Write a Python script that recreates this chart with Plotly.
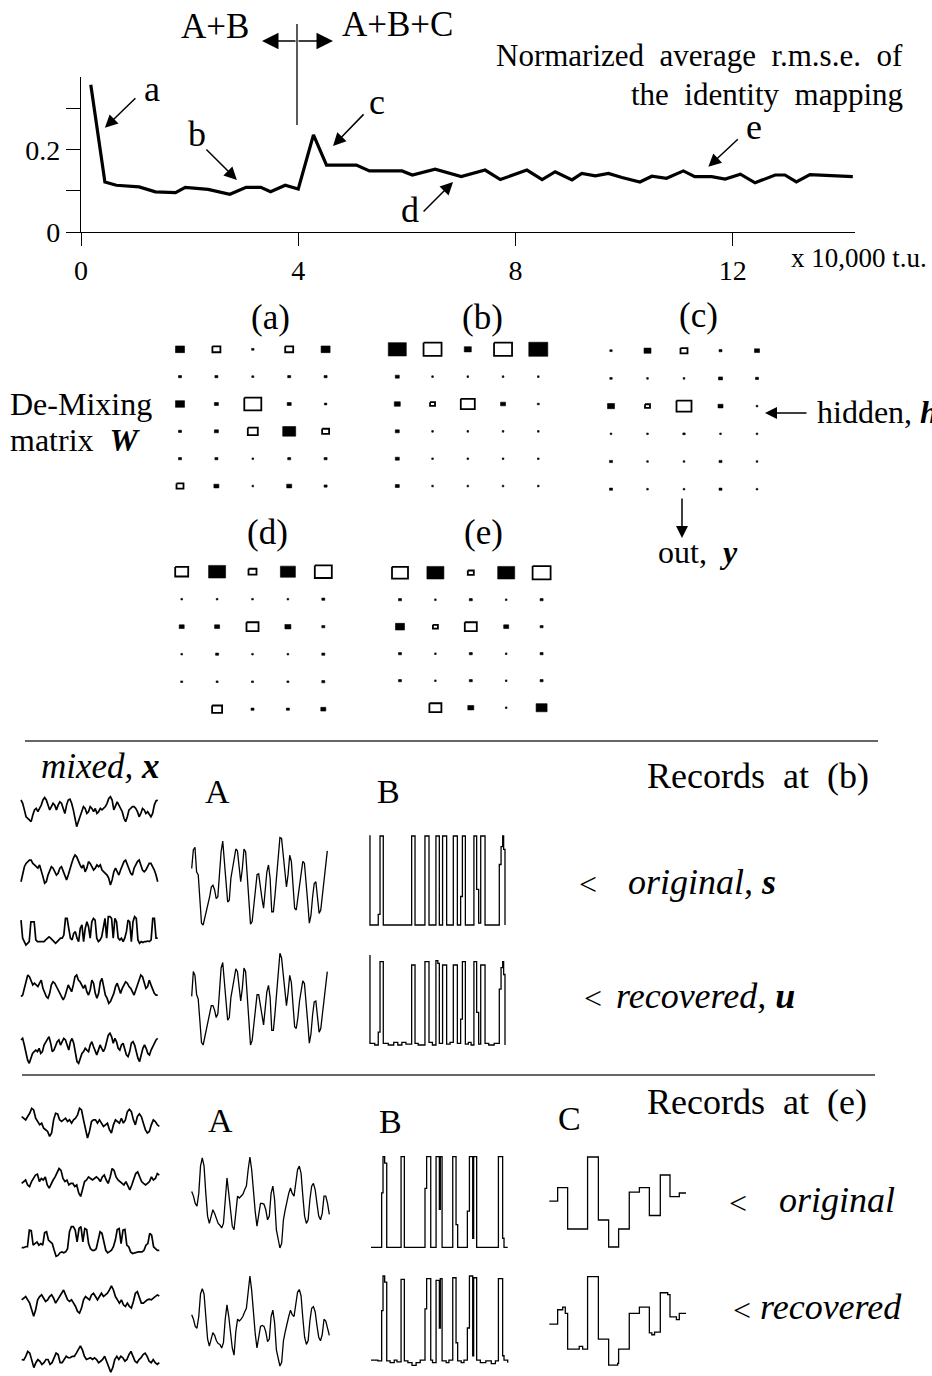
import plotly.graph_objects as go

W, H = 932, 1376
FONT = "Liberation Serif"

# ---------------- data ----------------
# normalized average r.m.s.e. of the identity mapping (x in 10,000 t.u.)
rmse_t = [0.18, 0.44, 0.65, 1.07, 1.37, 1.74, 1.92, 2.34, 2.74, 3.04, 3.31, 3.49, 3.76, 4.0,
          4.28, 4.52, 5.07, 5.31, 5.91, 6.1, 6.52, 7.0, 7.44, 7.72, 8.21, 8.49, 8.73, 9.04,
          9.22, 9.47, 9.71, 9.96, 10.29, 10.51, 10.78, 11.09, 11.3, 11.61, 11.86, 12.14,
          12.41, 12.78, 12.96, 13.17, 13.42, 14.21]
rmse_v = [0.359, 0.122, 0.114, 0.110, 0.098, 0.096, 0.109, 0.104, 0.092, 0.109, 0.109, 0.098,
          0.114, 0.105, 0.237, 0.163, 0.163, 0.149, 0.149, 0.139, 0.153, 0.135, 0.151, 0.128,
          0.151, 0.128, 0.147, 0.127, 0.143, 0.137, 0.143, 0.133, 0.122, 0.136, 0.131, 0.149,
          0.135, 0.135, 0.129, 0.141, 0.120, 0.139, 0.139, 0.122, 0.140, 0.135]
x_ticks = [0, 4, 8, 12]
x_tick_text = ["0", "4", "8", "12"]
y_ticks = [0, 0.1, 0.2, 0.3]
y_tick_text = ["0", "", "0.2", ""]

# de-mixing matrices (rows: 6, cols: 5), filled = positive, open = negative
W_a = [[0.45, -0.40, 0.12, -0.40, 0.45],
       [0.15, 0.15, 0.10, 0.15, 0.15],
       [0.45, 0.20, -0.85, 0.20, 0.12],
       [0.15, 0.20, -0.50, 0.65, -0.35],
       [0.15, 0.15, 0.08, 0.15, 0.15],
       [-0.35, 0.25, 0.08, 0.25, 0.15]]
W_b = [[0.90, -0.90, 0.35, -0.90, 0.95],
       [0.20, 0.08, 0.08, 0.08, 0.08],
       [0.30, -0.25, -0.70, 0.25, 0.10],
       [0.20, 0.08, 0.08, 0.08, 0.08],
       [0.20, 0.08, 0.08, 0.08, 0.08],
       [0.20, 0.08, 0.08, 0.08, 0.08]]
W_c = [[0.12, 0.35, -0.35, 0.15, 0.25],
       [0.12, 0.08, 0.08, 0.20, 0.15],
       [0.35, -0.25, -0.75, 0.25, 0.05],
       [0.08, 0.08, 0.12, 0.08, 0.08],
       [0.15, 0.08, 0.08, 0.15, 0.08],
       [0.15, 0.08, 0.05, 0.15, 0.08]]
W_d = [[-0.65, 0.85, -0.40, 0.75, -0.85],
       [0.08, 0.08, 0.08, 0.08, 0.15],
       [0.25, 0.25, -0.60, 0.30, 0.15],
       [0.08, 0.15, 0.08, 0.08, 0.15],
       [0.10, 0.10, 0.10, 0.10, 0.15],
       [0.0, -0.50, 0.15, 0.15, 0.25]]
W_e = [[-0.80, 0.85, -0.30, 0.85, -0.90],
       [0.15, 0.08, 0.15, 0.08, 0.15],
       [0.45, -0.25, -0.60, 0.25, 0.15],
       [0.15, 0.08, 0.15, 0.08, 0.15],
       [0.15, 0.08, 0.15, 0.08, 0.15],
       [0.0, -0.60, 0.30, 0.08, 0.55]]

# ---- records at (b) ----
mix_b1 = [89, 78, 56, 33, 28, 22, 17, 39, 56, 61, 50, 61, 72, 89, 97, 89, 72, 56, 67, 78, 72, 56,
          72, 83, 78, 56, 44, 72, 89, 92, 78, 56, 28, 0, 17, 33, 56, 67, 61, 44, 50, 67, 61, 50, 61,
          44, 50, 61, 56, 61, 67, 78, 94, 100, 89, 56, 67, 83, 72, 61, 50, 28, 17, 33, 56, 61, 67,
          67, 61, 50, 33, 44, 61, 56, 44, 50, 39, 33, 44, 72, 86, 89]
mix_b2 = [11, 39, 61, 72, 78, 83, 83, 72, 67, 61, 56, 67, 50, 28, 6, 11, 33, 50, 61, 56, 44, 33,
          39, 56, 61, 44, 28, 17, 33, 56, 72, 89, 100, 94, 78, 67, 56, 67, 44, 56, 78, 72, 61, 50,
          56, 67, 61, 67, 50, 44, 39, 33, 22, 0, 17, 44, 56, 44, 33, 50, 67, 78, 83, 67, 56, 39, 33,
          56, 67, 78, 83, 67, 50, 44, 50, 61, 72, 72, 61, 50, 33, 11]
mix_b3 = [88, 24, 12, 0, 6, 12, 82, 82, 82, 18, 12, 12, 12, 12, 12, 18, 24, 29, 24, 18, 12, 6, 12,
          18, 24, 24, 35, 94, 94, 59, 24, 18, 41, 47, 24, 12, 59, 71, 12, 59, 82, 65, 24, 82, 94,
          88, 24, 12, 18, 29, 71, 94, 24, 100, 100, 94, 24, 94, 82, 24, 18, 24, 12, 24, 47, 88, 82,
          12, 82, 100, 94, 18, 6, 12, 9, 12, 12, 14, 12, 18, 94, 94, 24, 24]
mix_b4 = [24, 29, 53, 82, 100, 94, 76, 65, 71, 65, 59, 71, 82, 53, 35, 24, 18, 35, 65, 76, 71, 59,
          47, 35, 24, 12, 24, 47, 65, 53, 41, 65, 94, 100, 82, 76, 65, 53, 65, 41, 29, 47, 82, 71,
          35, 18, 35, 76, 88, 53, 29, 18, 0, 6, 18, 35, 59, 71, 53, 35, 53, 65, 76, 71, 59, 53, 41,
          29, 47, 65, 88, 100, 94, 71, 53, 59, 82, 65, 47, 35, 29, 29]
mix_b5 = [78, 83, 61, 39, 11, 0, 17, 33, 39, 44, 39, 50, 33, 39, 61, 72, 83, 89, 67, 39, 44, 61,
          72, 78, 61, 72, 83, 78, 61, 44, 72, 83, 67, 28, 6, 0, 17, 33, 39, 50, 44, 39, 61, 72, 56,
          39, 28, 44, 61, 50, 39, 50, 78, 94, 100, 89, 67, 83, 72, 50, 44, 61, 67, 44, 28, 22, 39,
          67, 72, 61, 39, 17, 6, 28, 50, 61, 50, 33, 28, 44, 56, 67, 78, 83]
A_b_orig = [64, 85, 88, 60, 57, 23, 2, 0, 8, 17, 23, 32, 43, 45, 40, 30, 32, 60, 83, 95, 72, 45, 26,
            28, 53, 64, 75, 86, 84, 64, 49, 64, 86, 83, 57, 23, 1, 4, 23, 34, 57, 58, 42, 30, 19, 38,
            60, 68, 53, 15, 15, 34, 57, 81, 99, 98, 79, 57, 43, 57, 79, 72, 38, 19, 17, 30, 47, 60,
            72, 70, 42, 26, 2, 11, 32, 47, 49, 32, 13, 17, 32, 47, 64, 84]
A_b_rec = [53, 80, 76, 55, 50, 22, 3, 0, 8, 17, 25, 35, 43, 43, 38, 30, 34, 58, 84, 90, 70, 44, 27,
           30, 52, 62, 73, 83, 80, 62, 48, 62, 84, 80, 55, 22, 0, 5, 24, 36, 55, 55, 42, 31, 22, 40,
           58, 65, 52, 16, 16, 35, 58, 82, 100, 95, 76, 55, 43, 57, 76, 68, 38, 20, 18, 30, 48, 62,
           70, 67, 40, 25, 2, 12, 33, 47, 48, 33, 14, 18, 33, 48, 64, 80]
B_b_orig_t = [0, 0.5, 6.6, 7.9, 10.3, 31.2, 33.7, 41.0, 44.0, 49.1, 51.6, 54.0, 57.0, 61.9, 64.9,
              67.3, 68.6, 70.8, 77.1, 79.1, 80.6, 82.1, 85.3, 95.8, 97.1, 98.3, 99.0, 100]
B_b_orig_v = [1, 0, 0.12, 1, 0, 1, 0, 1, 0, 1, 0, 1, 0, 1, 0, 0.32, 1, 0, 1, 0.4, 0.02, 1, 0,
              0.68, 0.88, 1.0, 0.85, 0]
B_b_rec_t = [0, 0.5, 4.0, 6.6, 7.9, 10.3, 14, 18, 21, 24, 27, 31.2, 33.7, 36, 41.0, 44.0, 46.5,
             49.1, 50.5, 51.6, 54.0, 57.0, 59.5, 61.9, 64.9, 67.3, 68.6, 70.8, 73, 75, 77.1, 79.1,
             80.6, 82.1, 85.3, 88, 92, 95.8, 97.1, 98.3, 99.0, 100]
B_b_rec_v = [1.06, 0.02, 0.0, 0.15, 0.97, 0.02, 0.0, 0.03, 0.0, 0.03, 0.01, 0.93, 0.02, 0.0, 0.97,
             0.03, 0.0, 0.98, 0.95, 0.02, 0.93, 0.01, 0.03, 0.93, 0.02, 0.3, 0.97, 0.01, 0.03, 0.0,
             0.97, 0.38, 0.01, 0.93, 0.02, 0.0, 0.02, 0.65, 0.9, 0.97, 0.82, 0.0]

# ---- records at (e) ----
mix_e1 = [68, 63, 58, 68, 78, 93, 88, 63, 53, 43, 48, 33, 28, 23, 8, 18, 58, 78, 76, 58, 53, 58, 63,
          53, 58, 48, 58, 63, 73, 93, 88, 58, 28, 3, 23, 53, 58, 58, 48, 58, 48, 38, 43, 48, 28, 18,
          43, 58, 53, 48, 63, 48, 58, 83, 90, 83, 58, 43, 68, 76, 68, 48, 28, 18, 23, 43, 58, 53, 43, 38]
mix_e2 = [47, 53, 58, 42, 37, 53, 63, 74, 77, 53, 63, 58, 68, 42, 32, 47, 58, 68, 84, 95, 89, 63, 53,
          58, 42, 47, 47, 37, 42, 16, 5, 26, 53, 58, 68, 63, 58, 63, 68, 63, 53, 68, 74, 58, 47, 68,
          95, 89, 68, 58, 53, 47, 42, 53, 37, 26, 42, 58, 79, 84, 68, 53, 47, 42, 47, 53, 68, 58, 63, 79, 74]
mix_e3 = [29, 29, 32, 32, 84, 82, 37, 42, 47, 37, 42, 37, 76, 79, 53, 47, 42, 21, 2, 5, 13, 16, 13,
          16, 26, 79, 95, 95, 84, 47, 89, 95, 47, 89, 86, 42, 26, 21, 21, 26, 53, 79, 74, 42, 21, 13,
          16, 21, 32, 53, 86, 89, 42, 84, 86, 37, 32, 16, 11, 13, 13, 16, 16, 16, 21, 37, 42, 74, 68,
          32, 26, 21, 21]
mix_e4 = [55, 60, 65, 55, 45, 25, 5, 25, 55, 65, 70, 60, 50, 55, 65, 70, 60, 45, 55, 65, 75, 85, 70,
          55, 50, 55, 45, 35, 20, 15, 30, 55, 65, 60, 55, 70, 75, 65, 55, 65, 75, 65, 70, 75, 85, 97,
          85, 65, 55, 45, 55, 40, 35, 45, 35, 30, 50, 75, 80, 65, 45, 45, 50, 55, 57, 55, 60, 65, 70, 67]
mix_e5 = [50, 48, 61, 78, 72, 50, 22, 39, 50, 44, 33, 39, 50, 50, 33, 39, 56, 72, 67, 39, 39, 50, 61,
          56, 56, 61, 61, 72, 83, 97, 83, 61, 50, 52, 56, 50, 56, 50, 39, 44, 50, 61, 44, 28, 6, 22,
          50, 61, 50, 61, 56, 44, 50, 67, 78, 61, 44, 39, 50, 56, 67, 72, 61, 44, 39, 50, 39, 33, 39]
A_e_orig = [62, 57, 49, 46, 60, 90, 99, 90, 60, 35, 27, 35, 42, 38, 31, 27, 25, 22, 27, 57, 77, 60,
            38, 24, 20, 42, 57, 55, 57, 59, 64, 68, 86, 100, 86, 57, 40, 24, 38, 49, 49, 48, 42, 31,
            35, 60, 68, 53, 20, 11, 0, 5, 31, 42, 53, 60, 66, 60, 57, 75, 86, 90, 82, 57, 35, 27, 31,
            53, 68, 71, 64, 49, 35, 31, 38, 57, 57, 49, 37]
A_e_rec = [57, 52, 44, 42, 55, 80, 86, 80, 55, 30, 22, 30, 37, 34, 28, 25, 24, 20, 26, 52, 68, 55,
           35, 20, 12, 38, 52, 50, 52, 55, 60, 64, 82, 100, 84, 55, 36, 20, 34, 44, 45, 44, 38, 27,
           30, 55, 62, 48, 18, 8, 0, 4, 28, 38, 48, 55, 62, 57, 55, 72, 82, 85, 78, 53, 32, 24, 28,
           50, 64, 66, 60, 45, 32, 28, 35, 52, 50, 42, 34]
B_e_orig_t = [0, 7.8, 8.8, 10.0, 11.5, 22.0, 24.4, 39.5, 40.7, 43.7, 47.6, 50.0, 50.7, 52.0, 59.8,
              62.2, 63.4, 70.5, 72.0, 74.4, 75.1, 77.3, 93.2, 96.3, 97.3, 100]
B_e_orig_v = [0, 0.6, 1, 0.93, 0, 1, 0, 0.65, 1, 0, 1, 0.42, 1, 0, 1, 0.25, 0, 0.4, 1, 0.1, 1, 0,
              1, 0.1, 0, 0]
B_e_rec_t = [0, 5, 7.8, 8.8, 10.0, 11.5, 14, 17, 19, 22.0, 24.4, 27, 30, 33, 36, 39.5, 40.7, 43.7,
             45, 47.6, 50.0, 50.7, 52.0, 55, 57, 59.8, 62.2, 63.4, 66, 68, 70.5, 72.0, 74.4, 75.1,
             77.3, 80, 84, 88, 91, 93.2, 96.3, 97.3, 100]
B_e_rec_v = [0.03, 0.02, 0.6, 1.0, 0.93, 0.02, 0.0, 0.03, 0.01, 0.96, 0.02, 0.0, -0.03, 0.0, 0.03,
             0.62, 0.97, 0.03, 0.0, 0.95, 0.4, 0.97, 0.02, 0.0, 0.03, 0.98, 0.23, 0.02, 0.0, 0.03,
             0.4, 1.0, 0.08, 0.98, 0.03, 0.0, 0.02, -0.01, 0.02, 0.97, 0.08, 0.03, 0.0]
C_e_orig_t = [0, 6.1, 13.4, 28.0, 35.9, 43.4, 50.7, 58.5, 65.9, 73.2, 81.2, 88.3, 95.1, 100]
C_e_orig_v = [0.51, 0.66, 0.2, 1.0, 0.3, 0.0, 0.2, 0.61, 0.66, 0.35, 0.8, 0.56, 0.6, 0.6]
C_e_rec_t = [0, 6.1, 9.8, 11.7, 13.4, 21.9, 24.4, 28.0, 35.9, 43.4, 50.0, 50.7, 58.5, 65.9, 73.2,
             75, 77, 81.2, 86.6, 88.3, 93, 95.1, 100]
C_e_rec_v = [0.47, 0.63, 0.66, 0.59, 0.19, 0.22, 0.19, 1.0, 0.3, 0.01, 0.03, 0.19, 0.59, 0.66, 0.37,
             0.35, 0.38, 0.82, 0.8, 0.55, 0.52, 0.59, 0.59]

# ---------------- layout helpers ----------------
fig = go.Figure()
layout = {}
annotations = []
shapes = []
axis_n = [1]


def new_axes(x0, x1, y0, y1, xr, yr):
    axis_n[0] += 1
    s = str(axis_n[0])
    layout["xaxis" + s] = dict(domain=[max(0, x0 / W), min(1, x1 / W)], range=xr, anchor="y" + s,
                               visible=False, fixedrange=True)
    layout["yaxis" + s] = dict(domain=[max(0, 1 - y1 / H), min(1, 1 - y0 / H)], range=yr,
                               anchor="x" + s, visible=False, fixedrange=True)
    return "x" + s, "y" + s


def add_signal(vals, box, t=None, shape="linear", vmax=100, width=1.3, pad=4):
    x0, x1, y0, y1 = box
    if t is None:
        t = list(range(len(vals)))
    tmax = t[-1]
    ux = tmax / (x1 - x0)
    uy = vmax / (y1 - y0)
    X0, X1 = max(0, x0 - pad), min(W, x1 + pad)
    Y0, Y1 = max(0, y0 - pad), min(H, y1 + pad)
    xa, ya = new_axes(X0, X1, Y0, Y1,
                      [(X0 - x0) * ux, (X1 - x0) * ux], [(y1 - Y1) * uy, (y1 - Y0) * uy])
    fig.add_trace(go.Scatter(x=t, y=vals, mode="lines",
                             line=dict(color="black", width=width, shape=shape),
                             xaxis=xa, yaxis=ya, hoverinfo="skip", showlegend=False))


BOX_MAX = 20.0
ASPECT = 0.74


def add_matrix(Wm, geom):
    cx0, dx, cy0, dy = geom
    xa, ya = new_axes(cx0 - dx / 2, cx0 + 4.5 * dx, cy0 - dy / 2, cy0 + 5.5 * dy,
                      [-0.5, 4.5], [5.5, -0.5])
    fx, fy, ox, oy = [], [], [], []
    for r, row in enumerate(Wm):
        for c, w in enumerate(row):
            if w == 0:
                continue
            wp = max(BOX_MAX * abs(w), 1.6)
            hp = max(wp * ASPECT, 1.6)
            hx, hy = wp / 2 / dx, hp / 2 / dy
            xs = [c - hx, c + hx, c + hx, c - hx, c - hx, None]
            ys = [r - hy, r - hy, r + hy, r + hy, r - hy, None]
            if w > 0 or wp < 4:
                fx += xs; fy += ys
            else:
                ox += xs; oy += ys
    fig.add_trace(go.Scatter(x=fx, y=fy, mode="lines", fill="toself", fillcolor="black",
                             line=dict(color="black", width=0.6), xaxis=xa, yaxis=ya,
                             hoverinfo="skip", showlegend=False))
    fig.add_trace(go.Scatter(x=ox, y=oy, mode="lines", fill="toself", fillcolor="white",
                             line=dict(color="black", width=1.8), xaxis=xa, yaxis=ya,
                             hoverinfo="skip", showlegend=False))


def text(s, x, y, size=30, xanchor="center", yanchor="middle"):
    annotations.append(dict(text=s, x=x / W, y=1 - y / H, xref="paper", yref="paper",
                            showarrow=False, xanchor=xanchor, yanchor=yanchor,
                            font=dict(family=FONT, size=size, color="black")))


def arrow(xt, yt, xs, ys, size=1.6, width=1.5, ref="paper"):
    if ref == "paper":
        x, y = xt / W, 1 - yt / H
        xr, yr = "paper", "paper"
        axp, ayp = xs - xt, ys - yt
    else:
        x, y = xt, yt
        xr, yr = "x", "y"
        axp, ayp = xs, ys
    annotations.append(dict(text="", x=x, y=y, xref=xr, yref=yr, ax=axp, ay=ayp,
                            showarrow=True, arrowhead=2, arrowsize=size, arrowwidth=width,
                            arrowcolor="black"))


def hline(x0, x1, y, width=1.5):
    shapes.append(dict(type="line", xref="paper", yref="paper", x0=x0 / W, x1=x1 / W,
                       y0=1 - y / H, y1=1 - y / H, line=dict(color="#333", width=width)))


def vline(x, y0, y1, width=1.3):
    shapes.append(dict(type="line", xref="paper", yref="paper", x0=x / W, x1=x / W,
                       y0=1 - y0 / H, y1=1 - y1 / H, line=dict(color="black", width=width)))


# ---------------- top chart ----------------
fig.add_trace(go.Scatter(x=rmse_t, y=rmse_v, mode="lines", line=dict(color="black", width=3.2),
                         hoverinfo="skip", showlegend=False))
tickfont = dict(family=FONT, size=28, color="black")
layout["xaxis"] = dict(domain=[81 / W, 855 / W], range=[0, 14.25], showline=True,
                       linecolor="black", linewidth=1.3, ticks="outside", ticklen=13,
                       tickwidth=1.3, tickcolor="black", tickvals=x_ticks, ticktext=x_tick_text,
                       tickfont=tickfont, showgrid=False, zeroline=False, anchor="y",
                       fixedrange=True, automargin=False)
layout["yaxis"] = dict(domain=[1 - 232 / H, 1 - 77 / H], range=[0, 0.378], showline=True,
                       linecolor="black", linewidth=1.3, ticks="outside", ticklen=14,
                       tickwidth=1.3, tickcolor="black", tickvals=y_ticks, ticktext=y_tick_text,
                       tickfont=tickfont, showgrid=False, zeroline=False, anchor="x",
                       fixedrange=True, automargin=False)

text("A+B", 215, 27, 35)
text("A+B+C", 397, 24, 35)
arrow(262, 41, 297, 41, size=2.2)
arrow(333, 41, 297, 41, size=2.2)
vline(297, 24, 125)
text("Normarized\u00a0 average\u00a0 r.m.s.e.\u00a0 of", 905, 56, 31, xanchor="right")
text("the\u00a0 identity\u00a0 mapping", 905, 94, 31, xanchor="right")
text("x 10,000 t.u.", 789, 258, 27, xanchor="left")

# curve labels (a..e) with arrows pointing at the curve
for lab, lx, ly, tip, off in [("a", 152, 89, (0.44, 0.254), (32, -31)),
                              ("b", 197, 134, (2.87, 0.127), (-32, -32)),
                              ("c", 377, 102, (4.64, 0.21), (32, -33)),
                              ("d", 410, 210, (6.85, 0.122), (-31, 31)),
                              ("e", 754, 127, (11.55, 0.159), (31, -29))]:
    text(lab, lx, ly, 36)
    arrow(tip[0], tip[1], off[0], off[1], size=1.7, width=1.5, ref="data")

# ---------------- matrices ----------------
add_matrix(W_a, (180, 36.4, 349.3, 27.35))
add_matrix(W_b, (397.3, 35.25, 349.3, 27.35))
add_matrix(W_c, (611, 36.5, 350.7, 27.7))
add_matrix(W_d, (181.7, 35.4, 571.7, 27.5))
add_matrix(W_e, (400, 35.4, 572.7, 27.0))
text("(a)", 270, 317, 35)
text("(b)", 482, 317, 35)
text("(c)", 698, 316, 35)
text("(d)", 267, 532, 35)
text("(e)", 483, 532, 35)
text("De-Mixing", 8, 404, 32, xanchor="left")
text("matrix\u00a0 <b><i>W</i></b>", 8, 440, 32, xanchor="left")
text("hidden, <b><i>h</i></b>", 815, 412, 32, xanchor="left")
arrow(765, 413, 808, 413, size=1.6)
arrow(682, 538, 682, 497, size=1.6)
text("out,\u00a0 <b><i>y</i></b>", 698, 552, 32)

# ---------------- records at (b) ----------------
hline(25, 878, 741)
text("<i>mixed,</i> <b><i>x</i></b>", 162, 766, 35, xanchor="right")
text("A", 217, 791, 34)
text("B", 388, 791, 34)
text("Records\u00a0 at\u00a0 (b)", 758, 776, 36)
text("<", 588, 884, 32)
text("<i>original,</i> <b><i>s</i></b>", 626, 882, 36, xanchor="left")
text("<", 593, 998, 32)
text("<i>recovered,</i> <b><i>u</i></b>", 614, 996, 36, xanchor="left")

mx_x = (21, 157.7)
for vals, (y0, y1) in zip([mix_b1, mix_b2, mix_b3, mix_b4, mix_b5],
                          [(796.7, 826.7), (855, 885), (916.7, 945), (975, 1003.3),
                           (1033.3, 1063.3)]):
    add_signal(vals, (mx_x[0], mx_x[1], y0, y1), width=1.7)
add_signal(A_b_orig, (191.7, 327.3, 836.7, 925))
add_signal(A_b_rec, (191.7, 327.3, 953.3, 1045))
add_signal(B_b_orig_v, (369.3, 505, 836, 925), t=B_b_orig_t, shape="hv", vmax=1)
add_signal(B_b_rec_v, (369.3, 505, 959, 1045), t=B_b_rec_t, shape="hv", vmax=1)

# ---------------- records at (e) ----------------
hline(22, 875, 1075)
text("A", 220, 1120, 34)
text("B", 390, 1121, 34)
text("C", 569, 1118, 34)
text("Records\u00a0 at\u00a0 (e)", 757, 1102, 36)
text("<", 738, 1203, 32)
text("<i>original</i>", 777, 1200, 36, xanchor="left")
text("<", 742, 1310, 32)
text("<i>recovered</i>", 758, 1307, 36, xanchor="left")

me_x = (21.7, 159.3)
for vals, (y0, y1) in zip([mix_e1, mix_e2, mix_e3, mix_e4, mix_e5],
                          [(1106, 1139), (1167, 1198), (1225, 1257), (1285, 1318), (1345, 1374)]):
    add_signal(vals, (me_x[0], me_x[1], y0, y1), width=1.7)
add_signal(A_e_orig, (191.7, 329.3, 1157, 1248))
add_signal(A_e_rec, (191.7, 329.3, 1276, 1366))
add_signal(B_e_orig_v, (371, 507.7, 1156.7, 1247.3), t=B_e_orig_t, shape="hv", vmax=1)
add_signal(B_e_rec_v, (371, 507.7, 1276, 1362.7), t=B_e_rec_t, shape="hv", vmax=1)
add_signal(C_e_orig_v, (549.3, 686, 1157, 1247), t=C_e_orig_t, shape="hv", vmax=1)
add_signal(C_e_rec_v, (549.3, 686, 1276.7, 1366), t=C_e_rec_t, shape="hv", vmax=1)

fig.update_layout(width=W, height=H, margin=dict(l=0, r=0, t=0, b=0, pad=0),
                  paper_bgcolor="white", plot_bgcolor="white", showlegend=False,
                  annotations=annotations, shapes=shapes,
                  font=dict(family=FONT, color="black"), **layout)

page_fix = (
    "var gd=document.getElementById('{plot_id}');"
    "var de=document.documentElement, b=document.body;"
    "de.style.margin='0';de.style.padding='0';de.style.overflow='hidden';"
    "b.style.margin='0';b.style.padding='0';b.style.overflow='hidden';"
    "b.style.fontSize='0';b.style.lineHeight='0';"
    "b.style.width='932px';b.style.height='1376px';"
    "gd.style.position='fixed';gd.style.left='0px';gd.style.top='0px';"
)
fig.write_html("out.html", config={"displayModeBar": False, "responsive": False},
               post_script=page_fix)
